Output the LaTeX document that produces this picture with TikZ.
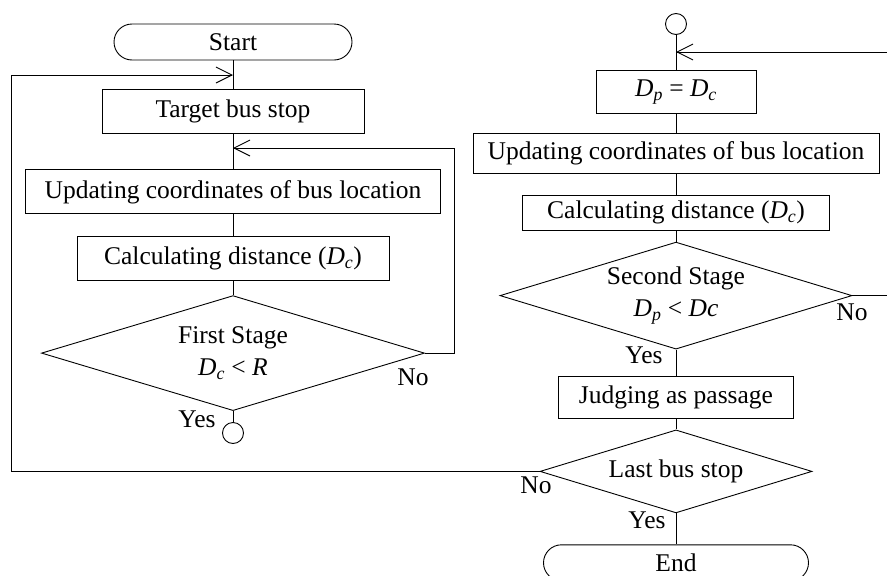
\documentclass[tikz,border=0pt]{standalone}
\usepackage{fontspec}
\setmainfont{Liberation Serif}
\usetikzlibrary{arrows.meta,positioning,shapes.geometric}

\newcommand{\varD}[1]{\textit{D}\textsubscript{\textit{#1}}}

\begin{document}
\begin{tikzpicture}[
  x=1pt, y=-1pt,
  >={Straight Barb[length=16pt,width=16pt]},
  line width=0.9pt,
  font=\fontsize{25.5}{32}\selectfont,
  box/.style={draw, rectangle, inner sep=0pt, align=center},
  term/.style={draw, rectangle, rounded corners=18pt, inner sep=0pt, minimum height=36pt},
  decide/.style={draw, diamond, aspect=3.3, inner sep=0pt, align=center},
  conn/.style={draw, circle, inner sep=0pt, minimum size=21pt},
  lbl/.style={inner sep=0pt}
]
\useasboundingbox (0,0) rectangle (887,576);

% left column
\node[term, minimum width=238pt] (start) at (233,42) {Start};
\node[box, minimum width=262pt, minimum height=44pt, below=29pt of start] (target) {Target bus stop};
\node[box, minimum width=415pt, minimum height=44pt, below=35pt of target] (updA) {Updating coordinates of bus location};
\node[box, minimum width=312pt, minimum height=44pt, below=22pt of updA] (calcA) {Calculating distance (\varD{c})};
\node[decide, minimum width=383pt, minimum height=115pt, below=14pt of calcA] (firstst) {First Stage\\\varD{c} < \textit{R}};
\node[conn, below=11pt of firstst] (connA) {};

% right column
\node[conn] (connB) at (676,24) {};
\node[box, minimum width=160pt, minimum height=43pt, below=35pt of connB] (dpdc) {\varD{p} = \varD{c}};
\node[box, minimum width=406pt, minimum height=40pt, below=19pt of dpdc] (updB) {Updating coordinates of bus location};
\node[box, minimum width=307pt, minimum height=35pt, below=21pt of updB] (calcB) {Calculating distance (\varD{c})};
\node[decide, minimum width=352pt, minimum height=107pt, below=11pt of calcB] (secondst) {Second Stage\\\varD{p} < \textit{Dc}};
\node[box, minimum width=235pt, minimum height=42pt, below=26pt of secondst] (judge) {Judging as passage};
\node[decide, minimum width=272pt, minimum height=83pt, below=11pt of judge] (lastst) {Last bus stop};
\node[term, minimum width=265pt, minimum height=36pt, below=31pt of lastst] (finish) {End};

% branch labels
\node[lbl] at (413,377) {No};
\node[lbl] at (197,419) {Yes};
\node[lbl] at (852,312) {No};
\node[lbl] at (644,355) {Yes};
\node[lbl] at (536,485) {No};
\node[lbl] at (647,520) {Yes};

\coordinate (loopL) at (11,75);
\coordinate (loopR) at (454,148);
\coordinate (edgeA) at (887,52);
\coordinate (edgeB) at (887,291);

\draw (start) -- (target);
\draw (target) -- (updA);
\draw (updA) -- (calcA);
\draw (calcA) -- (firstst);
\draw (firstst) -- (connA);
\draw[->] (firstst.east) -| (loopR) -- (loopR -| target.south);
\draw[->] (lastst.west) -| (loopL) -- (loopL -| start.south);

\draw (connB) -- (dpdc);
\draw (dpdc) -- (updB);
\draw (updB) -- (calcB);
\draw (calcB) -- (secondst);
\draw (secondst) -- (judge);
\draw (judge) -- (lastst);
\draw (lastst) -- (finish);
\draw[->] (edgeA) -- (edgeA -| connB.south);
\draw (secondst.east) -- (secondst.east -| edgeB);
\end{tikzpicture}
\end{document}
